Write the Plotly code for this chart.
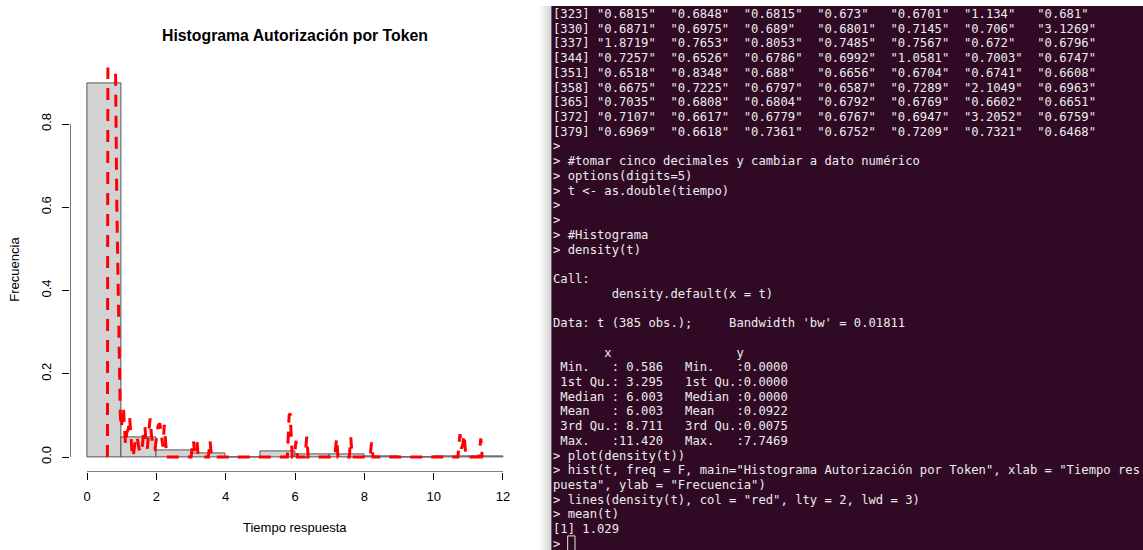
import plotly.graph_objects as go

W, H = 1143, 550


def px(x):
    return x / W


def py(y):
    return 1 - y / H


# ---- histogram data (t, 385 observations, bins of width 1 from 0 to 12) ----
n_obs = 385
bin_edges = [0, 1, 2, 3, 4, 5, 6, 7, 8, 9, 10, 11, 12]
bin_counts = [346, 18, 6, 3, 0, 5, 2, 2, 1, 0, 1, 1]

# ---- kernel density curve of t (bw = 0.01811), read point by point ----
dens_x = [0.586, 0.590, 0.595, 0.600, 0.620, 0.700, 0.760, 0.800, 0.820, 0.860, 0.900, 0.940,
          0.960, 0.990, 1.020, 1.050, 1.080, 1.110, 1.150, 1.190, 1.230, 1.270, 1.300, 1.330,
          1.370, 1.410, 1.450, 1.500, 1.560, 1.600, 1.640, 1.670, 1.710, 1.740, 1.780, 1.820,
          1.860, 1.920, 1.960, 2.000, 2.050, 2.100, 2.150, 2.190, 2.230, 2.260, 2.300,
          3.000, 3.040, 3.070, 3.100, 3.140, 3.170, 3.210,
          3.500, 3.530, 3.550, 3.590,
          5.780, 5.810, 5.830, 5.860, 5.890, 5.920,
          5.980, 6.010, 6.030, 6.070,
          6.290, 6.320, 6.340, 6.380,
          7.150, 7.180, 7.200, 7.240,
          7.570, 7.590, 7.610, 7.650,
          8.170, 8.190, 8.210, 8.250,
          10.700, 10.730, 10.760, 10.800, 10.840, 10.880, 10.930,
          11.310, 11.340, 11.360, 11.400, 11.420]
dens_y = [0.000, 0.050, 0.500, 1.200, 3.500, 7.700, 5.000, 1.500, 0.950, 0.600, 0.350, 0.150,
          0.100, 0.070, 0.100, 0.120, 0.070, 0.030, 0.060, 0.066, 0.095, 0.040, 0.010, 0.000,
          0.030, 0.050, 0.046, 0.020, 0.010, 0.030, 0.070, 0.073, 0.030, 0.020, 0.060, 0.093,
          0.050, 0.020, 0.018, 0.040, 0.075, 0.081, 0.040, 0.025, 0.077, 0.040, 0.000,
          0.000, 0.020, 0.040, 0.015, 0.025, 0.039, 0.000,
          0.000, 0.025, 0.039, 0.000,
          0.000, 0.060, 0.100, 0.105, 0.060, 0.000,
          0.000, 0.025, 0.039, 0.000,
          0.000, 0.030, 0.049, 0.000,
          0.000, 0.030, 0.045, 0.000,
          0.000, 0.030, 0.047, 0.000,
          0.000, 0.020, 0.035, 0.000,
          0.000, 0.030, 0.055, 0.020, 0.030, 0.054, 0.000,
          0.000, 0.030, 0.045, 0.000, 0.000]

x_ticks = [0, 2, 4, 6, 8, 10, 12]
y_ticks = [0.0, 0.2, 0.4, 0.6, 0.8]
y_tick_labels = ["0.0", "0.2", "0.4", "0.6", "0.8"]

# ---- R console session shown beside the plot ----
row_starts = [323, 330, 337, 344, 351, 358, 365, 372, 379]
tiempo_rows = [
    ["0.6815", "0.6848", "0.6815", "0.673", "0.6701", "1.134", "0.681"],
    ["0.6871", "0.6975", "0.689", "0.6801", "0.7145", "0.706", "3.1269"],
    ["1.8719", "0.7653", "0.8053", "0.7485", "0.7567", "0.672", "0.6796"],
    ["0.7257", "0.6526", "0.6786", "0.6992", "1.0581", "0.7003", "0.6747"],
    ["0.6518", "0.8348", "0.688", "0.6656", "0.6704", "0.6741", "0.6608"],
    ["0.6675", "0.7225", "0.6797", "0.6587", "0.7289", "2.1049", "0.6963"],
    ["0.7035", "0.6808", "0.6804", "0.6792", "0.6769", "0.6602", "0.6651"],
    ["0.7107", "0.6617", "0.6779", "0.6767", "0.6947", "3.2052", "0.6759"],
    ["0.6969", "0.6618", "0.7361", "0.6752", "0.7209", "0.7321", "0.6468"],
]
console_tail = [
    ">",
    "> #tomar cinco decimales y cambiar a dato numérico",
    "> options(digits=5)",
    "> t <- as.double(tiempo)",
    ">",
    ">",
    "> #Histograma",
    "> density(t)",
    "",
    "Call:",
    "        density.default(x = t)",
    "",
    "Data: t (385 obs.);     Bandwidth 'bw' = 0.01811",
    "",
    "       x                 y",
    " Min.   : 0.586   Min.   :0.0000",
    " 1st Qu.: 3.295   1st Qu.:0.0000",
    " Median : 6.003   Median :0.0000",
    " Mean   : 6.003   Mean   :0.0922",
    " 3rd Qu.: 8.711   3rd Qu.:0.0075",
    " Max.   :11.420   Max.   :7.7469",
    "> plot(density(t))",
    "> hist(t, freq = F, main=\"Histograma Autorización por Token\", xlab = \"Tiempo res",
    "puesta\", ylab = \"Frecuencia\")",
    "> lines(density(t), col = \"red\", lty = 2, lwd = 3)",
    "> mean(t)",
    "[1] 1.029",
    "> ",
]

console_lines = []
for start, vals in zip(row_starts, tiempo_rows):
    cells = "".join(('"' + v + '"').ljust(10) for v in vals).rstrip()
    console_lines.append(f"[{start}] " + cells)
console_lines += console_tail

# ---- figure ----
centers = [(a + b) / 2 for a, b in zip(bin_edges[:-1], bin_edges[1:])]
densities = [c / n_obs for c in bin_counts]

fig = go.Figure()
fig.add_trace(go.Bar(
    x=centers, y=densities, width=1,
    marker=dict(color="#d3d3d3", line=dict(color="#555555", width=1)),
    hoverinfo="skip",
))
fig.add_trace(go.Scatter(
    x=dens_x, y=dens_y, mode="lines",
    line=dict(color="#ff0000", width=3, dash="12px,9px"),
    hoverinfo="skip",
))

xlo, xhi = -0.48, 12.48
ylo, yhi = -0.036, 0.936
plot_left, plot_right = 70.4, 519.6
plot_top, plot_bottom = 67.4, 472.0

axis_font = dict(family="Liberation Sans, Arial, sans-serif", size=13, color="#000000")

fig.update_layout(
    width=W, height=H,
    margin=dict(l=0, r=0, t=0, b=0),
    paper_bgcolor="#ffffff",
    plot_bgcolor="#ffffff",
    showlegend=False,
    bargap=0,
    xaxis=dict(
        domain=[px(plot_left), px(plot_right)], range=[xlo, xhi],
        tickvals=x_ticks, ticktext=[str(v) for v in x_ticks],
        ticks="outside", ticklen=7, tickwidth=1, tickcolor="#000000",
        showline=False, showgrid=False, zeroline=False,
        tickfont=axis_font, ticklabelstandoff=5,
    ),
    yaxis=dict(
        domain=[py(plot_bottom), py(plot_top)], range=[ylo, yhi],
        tickvals=y_ticks, ticktext=y_tick_labels, tickangle=-90,
        ticks="outside", ticklen=7, tickwidth=1, tickcolor="#000000",
        showline=False, showgrid=False, zeroline=False,
        tickfont=axis_font, ticklabelstandoff=6,
    ),
)

shapes = [
    # R-style axis lines spanning only the tick range
    dict(type="line", xref="x", yref="y", x0=x_ticks[0], x1=x_ticks[-1], y0=ylo, y1=ylo,
         line=dict(color="#000000", width=1)),
    dict(type="line", xref="x", yref="y", x0=xlo, x1=xlo, y0=y_ticks[0], y1=y_ticks[-1],
         line=dict(color="#000000", width=1)),
]

# window shadow between the plot and the terminal
shade = ["#fbfbfb", "#f5f5f5", "#eeeeee", "#e6e6e6", "#dedede", "#d6d6d6"]
for i, c in enumerate(shade):
    x0 = 539 + 2 * i
    shapes.append(dict(type="rect", xref="paper", yref="paper",
                       x0=px(x0), x1=px(x0 + 2), y0=0, y1=py(6),
                       fillcolor=c, line=dict(width=0), layer="below"))

# terminal background
term_left, term_top = 551, 6
shapes.append(dict(type="rect", xref="paper", yref="paper",
                   x0=px(term_left), x1=1, y0=0, y1=py(term_top),
                   fillcolor="#300a24", line=dict(width=0), layer="above"))
shapes.append(dict(type="line", xref="paper", yref="paper",
                   x0=px(term_left + 0.5), x1=px(term_left + 0.5), y0=0, y1=py(term_top),
                   line=dict(color="#6e5a68", width=1), layer="above"))

line_h = 14.72
first_line_y = 14.0
char_w = 7.33
text_x = 553.0

# block cursor after the last prompt
cur_y = first_line_y + (len(console_lines) - 1) * line_h
shapes.append(dict(type="rect", xref="paper", yref="paper",
                   x0=px(text_x + 2 * char_w), x1=px(text_x + 3 * char_w),
                   y0=py(H + 2), y1=py(cur_y - 8),
                   fillcolor="rgba(0,0,0,0)", line=dict(color="#e8e8e8", width=1), layer="above"))

annotations = []
term_font = dict(family="DejaVu Sans Mono, monospace", size=12.2, color="#ececec")
for i, line in enumerate(console_lines):
    if not line.strip():
        continue
    annotations.append(dict(
        x=px(text_x - 2), y=py(first_line_y + i * line_h),
        xref="paper", yref="paper", xanchor="left", yanchor="middle",
        text=line.replace(" ", "\u00a0"), showarrow=False, font=term_font, align="left",
    ))

# plot titles
annotations.append(dict(
    x=px((plot_left + plot_right) / 2), y=py(36), xref="paper", yref="paper",
    text="<b>Histograma Autorización por Token</b>", showarrow=False,
    xanchor="center", yanchor="middle",
    font=dict(family="Liberation Sans, Arial, sans-serif", size=15.8, color="#000000"),
))
annotations.append(dict(
    x=px((plot_left + plot_right) / 2), y=py(527), xref="paper", yref="paper",
    text="Tiempo respuesta", showarrow=False, xanchor="center", yanchor="middle",
    font=axis_font,
))
annotations.append(dict(
    x=px(15), y=py((plot_top + plot_bottom) / 2), xref="paper", yref="paper",
    text="Frecuencia", showarrow=False, textangle=-90, xanchor="center", yanchor="middle",
    font=axis_font,
))

fig.update_layout(shapes=shapes, annotations=annotations)

fig.write_html("out.html")
